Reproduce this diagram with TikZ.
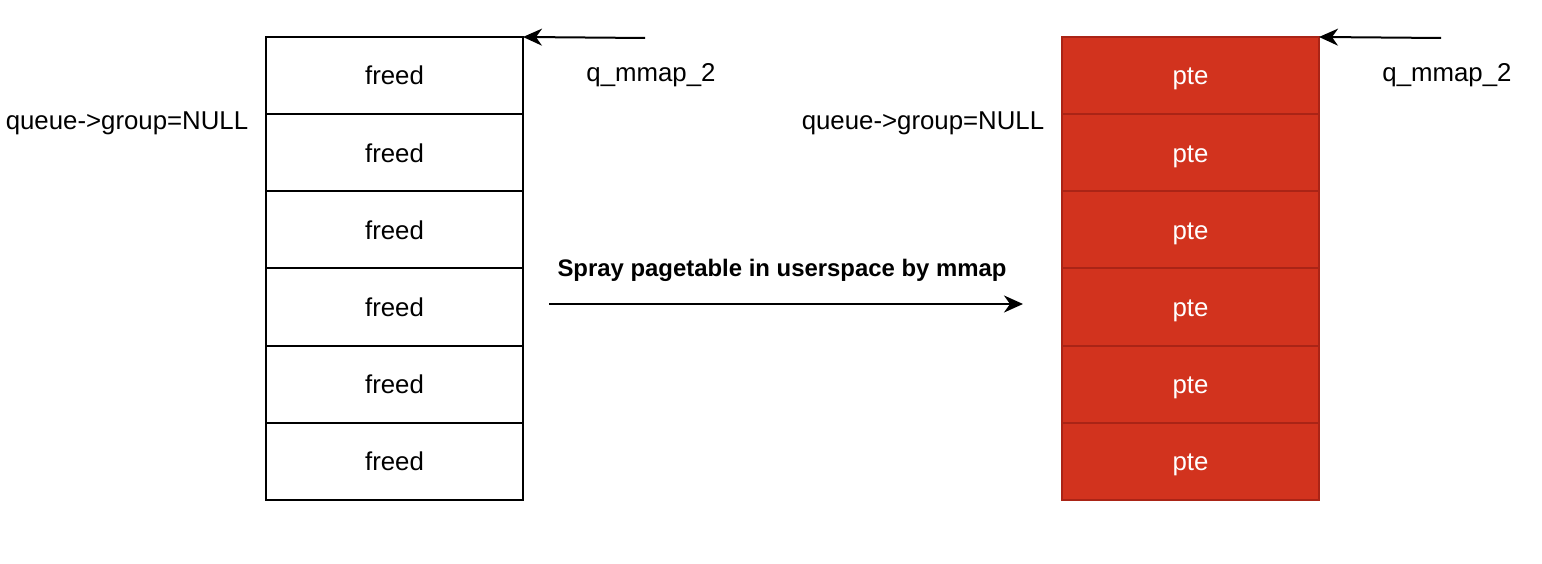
\documentclass[tikz,border=0pt]{standalone}
\usepackage{fontspec}
\setmainfont{Liberation Sans}
\usetikzlibrary{arrows.meta}
\definecolor{pteRed}{RGB}{210,51,30}
\definecolor{pteEdge}{RGB}{170,36,22}
\tikzset{
  cellbox/.style={draw=black, line width=2pt, fill=white, minimum width=257pt, minimum height=77.2pt, inner sep=0pt, outer sep=0pt, text height=18.8pt, text depth=0pt, font=\fontsize{25.8}{30}\selectfont},
  ptebox/.style={draw=pteEdge, line width=2pt, fill=pteRed, text=white, minimum width=257pt, minimum height=77.2pt, inner sep=0pt, outer sep=0pt, text height=18.8pt, text depth=0pt, font=\fontsize{25.8}{30}\selectfont},
  lbl/.style={inner sep=0pt, text height=18.8pt, text depth=0pt, font=\fontsize{25.8}{30}\selectfont},
  blbl/.style={inner sep=0pt, font=\fontsize{23.9}{28}\selectfont\bfseries},
  conn/.style={line width=2pt, -{Stealth[length=19pt,width=17pt,inset=6pt]}}
}
\begin{document}
\begin{tikzpicture}[x=1pt,y=-1pt]
\useasboundingbox (0,0) rectangle (1542,564);
% left column
\foreach \i in {1,...,6} {
  \node[cellbox] (l\i) at (394.5, {37+77.17*(\i-0.5)}) {freed};
}
% right column
\foreach \i in {1,...,6} {
  \node[ptebox] (r\i) at (1190.5, {37+77.17*(\i-0.5)}) {pte};
}
% labels
\node[lbl] (ql) at (651,72) {q\_mmap\_2};
\node[lbl] (qr) at (1447,72) {q\_mmap\_2};
\node[lbl] (gl) at (127,120) {queue->group=NULL};
\node[lbl] (gr) at (923,120) {queue->group=NULL};
\node[blbl] (sp) at (782,270) {Spray pagetable in userspace by mmap};
% connectors
\coordinate (al) at (645,38);
\coordinate (ar) at (1441,38);
\coordinate (m1) at (549,304);
\coordinate (m2) at (1023,304);
\draw[conn] (al) -- (l1.north east);
\draw[conn] (ar) -- (r1.north east);
\draw[conn] (m1) -- (m2);
\end{tikzpicture}
\end{document}
